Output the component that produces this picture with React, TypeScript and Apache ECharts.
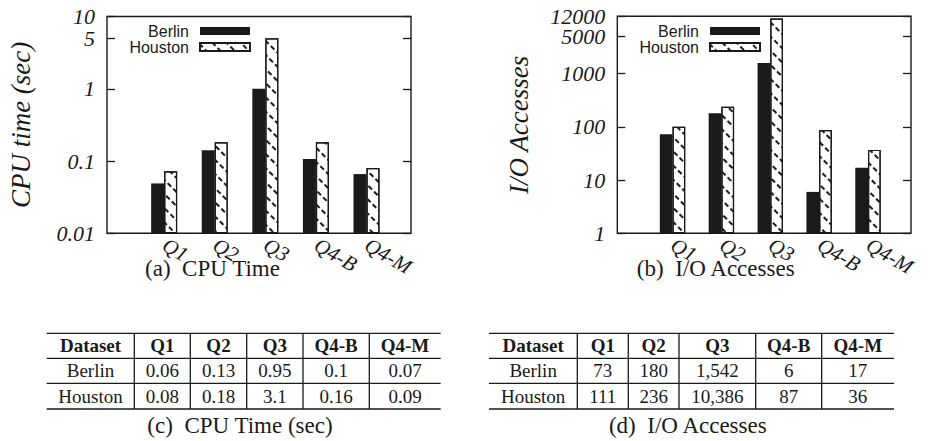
import React, { useEffect, useRef } from "react";
import * as echarts from "echarts";

// ---------- data ----------
const categories = ["Q1", "Q2", "Q3", "Q4-B", "Q4-M"];

// (a) CPU time (sec)
const cpuBerlin = [0.049, 0.141, 1.0, 0.107, 0.066];
const cpuHouston = [0.072, 0.182, 5.0, 0.182, 0.08];
const cpuTicks = [0.01, 0.1, 1, 5, 10];
const cpuTickLabels = ["0.01", "0.1", "1", "5", "10"];

// (b) I/O accesses
const ioBerlin = [73, 180, 1586, 6, 17];
const ioHouston = [101, 240, 10900, 87, 37];
const ioTicks = [1, 10, 100, 1000, 5000, 12000];
const ioTickLabels = ["1", "10", "100", "1000", "5000", "12000"];

// tables (c) and (d)
const tableHeader = ["Dataset", "Q1", "Q2", "Q3", "Q4-B", "Q4-M"];
const cpuTableBerlin = ["Berlin", "0.06", "0.13", "0.95", "0.1", "0.07"];
const cpuTableHouston = ["Houston", "0.08", "0.18", "3.1", "0.16", "0.09"];
const ioTableBerlin = ["Berlin", "73", "180", "1,542", "6", "17"];
const ioTableHouston = ["Houston", "111", "236", "10,386", "87", "36"];

const captions = ["(a)  CPU Time", "(b)  I/O Accesses", "(c)  CPU Time (sec)", "(d)  I/O Accesses"];

// ---------- styles ----------
const SERIF = "'Liberation Serif', 'Times New Roman', serif";
const SANS = "'Liberation Sans', Arial, sans-serif";
const INK = "#1a1a1a";

const CPU_MIN = 0.01;
const CPU_MAX = 10;
const IO_MIN = 1;
const IO_MAX = 12000;

const toLog = (v: number, min: number) => Math.log10(v / min);

const hatch: any = {
  symbol: "rect",
  symbolSize: 1,
  color: INK,
  dashArrayX: [5, 3],
  dashArrayY: [1.3, 8],
  rotation: Math.PI / 4,
};

const tickLabelStyle = {
  margin: 12,
  fontFamily: SERIF,
  fontStyle: "italic",
  fontSize: 22,
  lineHeight: 18,
  color: INK,
};

function makeYAxes(gridIndex: number, min: number, max: number, ticks: number[], labels: string[], name: string, nameGap: number) {
  const top = toLog(max, min);
  const vals = ticks.map((t) => Math.min(top, Math.max(0, toLog(t, min))));
  const fmt = (v: number) => {
    let best = 0;
    vals.forEach((x, i) => {
      if (Math.abs(x - v) < Math.abs(vals[best] - v)) best = i;
    });
    return labels[best];
  };
  const tick = { show: true, inside: true, length: 8, customValues: vals, lineStyle: { color: INK, width: 1.3 } };
  const base = {
    type: "value",
    gridIndex,
    min: 0,
    max: top,
    axisLine: { show: false, onZero: false },
    splitLine: { show: false },
  };
  return [
    {
      ...base,
      position: "left",
      name,
      nameLocation: "middle",
      nameGap,
      nameTextStyle: { fontFamily: SERIF, fontStyle: "italic", fontSize: 27, color: INK },
      axisTick: tick,
      axisLabel: {
        ...tickLabelStyle,
        customValues: vals.slice(0, -1),
        formatter: fmt,
        showMinLabel: true,
        showMaxLabel: true,
      },
    },
    {
      ...base,
      position: "right",
      axisTick: tick,
      axisLabel: { show: false },
    },
    {
      // top label only (kept separate so it is not hidden by overlap checks)
      ...base,
      position: "left",
      axisTick: { show: false },
      axisLabel: {
        ...tickLabelStyle,
        padding: [0, 0, 3, 0],
        customValues: [top],
        formatter: fmt,
        showMinLabel: true,
        showMaxLabel: true,
      },
    },
  ];
}

function makeXAxis(gridIndex: number) {
  return {
    type: "value",
    gridIndex,
    min: -1.13,
    max: 4.88,
    axisLine: { show: false, onZero: false },
    axisTick: { show: false },
    splitLine: { show: false },
    axisLabel: {
      customValues: categories.map((_, i) => i),
      formatter: (v: number) => categories[Math.round(v)] ?? "",
      showMinLabel: true,
      showMaxLabel: true,
      rotate: -30,
      margin: 10,
      fontFamily: SERIF,
      fontStyle: "italic",
      fontSize: 21,
      color: INK,
    },
  };
}

function makeLegend(right: number, top: number) {
  return {
    data: ["Berlin", "Houston"],
    orient: "vertical",
    align: "right",
    right,
    top,
    padding: 0,
    itemGap: 0,
    itemWidth: 50,
    itemHeight: 8,
    icon: "rect",
    selectedMode: false,
    textStyle: { fontFamily: SANS, fontSize: 16, color: INK, lineHeight: 15, padding: [0, 6, 0, 0] },
  };
}

function barPair(xAxisIndex: number, yAxisIndex: number, berlin: number[], houston: number[], min: number, width: number) {
  return [
    {
      type: "bar",
      name: "Berlin",
      xAxisIndex,
      yAxisIndex,
      barWidth: width,
      barGap: "0%",
      data: berlin.map((v, i) => [i, toLog(v, min)]),
      itemStyle: { color: INK },
    },
    {
      type: "bar",
      name: "Houston",
      xAxisIndex,
      yAxisIndex,
      barWidth: width,
      barGap: "0%",
      data: houston.map((v, i) => [i, toLog(v, min)]),
      itemStyle: { color: "#ffffff", borderColor: INK, borderWidth: 1.2, decal: hatch },
    },
  ];
}

function textEl(x: number, y: number, text: string, fontSize: number, bold = false) {
  return {
    type: "text",
    x,
    y,
    silent: true,
    style: {
      text,
      fontFamily: SERIF,
      fontSize,
      fontWeight: bold ? "bold" : "normal",
      fill: INK,
      align: "center",
      verticalAlign: "middle",
      textAlign: "center",
      textVerticalAlign: "middle",
    },
  };
}

function tableGraphics(edges: number[], rows: string[][], lineYs: number[], rowYs: number[]) {
  const els: any[] = [];
  const lineStyle = { stroke: INK, lineWidth: 1.3 };
  lineYs.forEach((y) =>
    els.push({ type: "line", silent: true, shape: { x1: edges[0], y1: y, x2: edges[edges.length - 1], y2: y }, style: lineStyle })
  );
  edges.slice(1, -1).forEach((x) =>
    els.push({ type: "line", silent: true, shape: { x1: x, y1: lineYs[0], x2: x, y2: lineYs[lineYs.length - 1] }, style: lineStyle })
  );
  rows.forEach((row, r) =>
    row.forEach((txt, c) => els.push(textEl((edges[c] + edges[c + 1]) / 2, rowYs[r], txt, 19, r === 0)))
  );
  return els;
}

const tableLineYs = [333.3, 358.3, 383.3, 409];
const tableRowYs = [345.5, 370.5, 396];

const option: any = {
  animation: false,
  backgroundColor: "#ffffff",
  grid: [
    { left: 107, top: 16.5, width: 304, height: 216.8, show: true, borderColor: INK, borderWidth: 1.4, backgroundColor: "transparent", containLabel: false, outerBoundsMode: "none" },
    { left: 617.3, top: 16.3, width: 293.7, height: 217, show: true, borderColor: INK, borderWidth: 1.4, backgroundColor: "transparent", containLabel: false, outerBoundsMode: "none" },
  ],
  xAxis: [makeXAxis(0), makeXAxis(1)],
  yAxis: [
    ...makeYAxes(0, CPU_MIN, CPU_MAX, cpuTicks, cpuTickLabels, "CPU time (sec)", 73),
    ...makeYAxes(1, IO_MIN, IO_MAX, ioTicks, ioTickLabels, "I/O Accesses", 85),
  ],
  legend: [makeLegend(677, 23), makeLegend(167, 23)],
  series: [
    ...barPair(0, 0, cpuBerlin, cpuHouston, CPU_MIN, 13),
    ...barPair(1, 3, ioBerlin, ioHouston, IO_MIN, 12.7),
  ],
  graphic: [
    textEl(212.5, 268, captions[0], 23),
    textEl(715.7, 268, captions[1], 23),
    ...tableGraphics([46.7, 134.3, 190.3, 246.7, 303, 369.3, 440.7], [tableHeader, cpuTableBerlin, cpuTableHouston], tableLineYs, tableRowYs),
    ...tableGraphics([489, 577.3, 628.3, 679, 755.7, 821.7, 894], [tableHeader, ioTableBerlin, ioTableHouston], tableLineYs, tableRowYs),
    textEl(240, 425, captions[2], 23),
    textEl(687.8, 425, captions[3], 23),
  ],
};

export default function App() {
  const ref = useRef<HTMLDivElement>(null);
  useEffect(() => {
    if (!ref.current) return;
    const chart = echarts.init(ref.current, null, { renderer: "svg" });
    chart.setOption(option);
    return () => chart.dispose();
  }, []);
  return (
    <div
      ref={ref}
      style={{ position: "fixed", left: 0, top: 0, width: 928, height: 441, background: "#ffffff" }}
    />
  );
}
